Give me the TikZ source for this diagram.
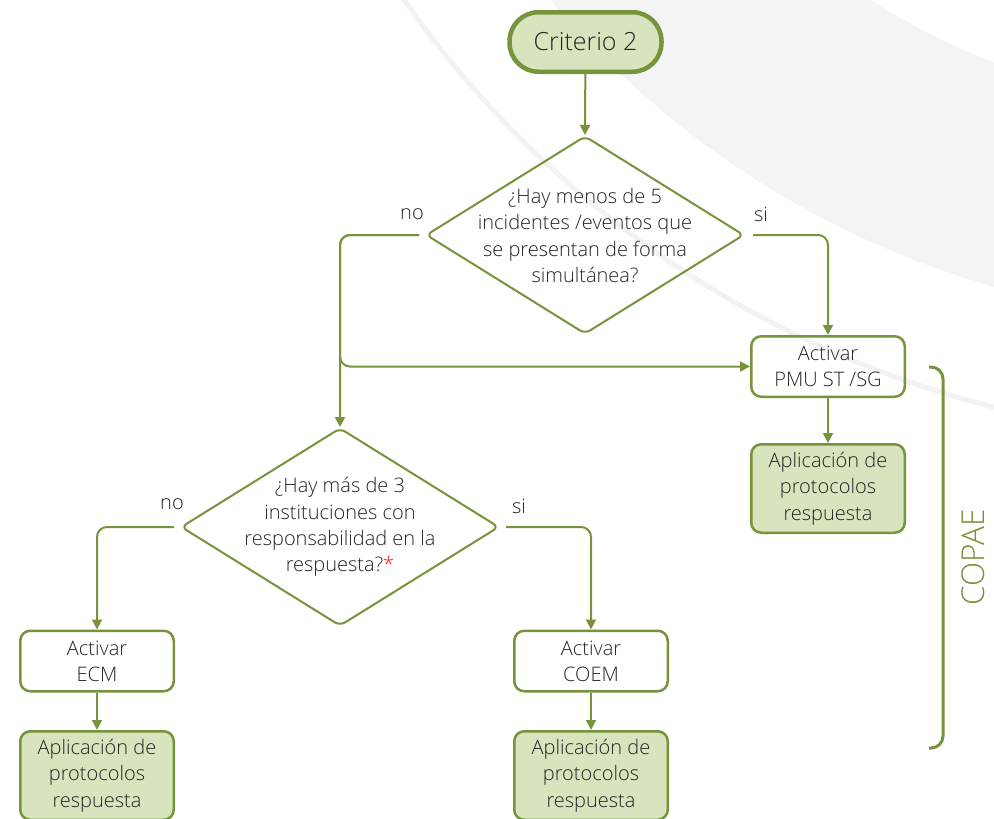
\documentclass[tikz,border=0pt]{standalone}
\usepackage{fontspec}
\setmainfont{Open Sans Light}
\usetikzlibrary{shapes.geometric,arrows.meta}
\definecolor{gline}{HTML}{77933C}
\definecolor{gfill}{HTML}{D7E4BD}
\definecolor{txt}{HTML}{262626}
\definecolor{bgband}{HTML}{F4F4F4}
\definecolor{bgarc}{HTML}{F2F2F2}
\definecolor{astred}{HTML}{FF2020}
\begin{document}
\begin{tikzpicture}[x=1pt,y=-1pt,
  every node/.style={text=txt, font=\fontsize{20}{26.3}\selectfont, align=center},
  startbox/.style={draw=gline, line width=4.5pt, fill=gfill, rounded corners=29pt,
    minimum width=152pt, minimum height=59.5pt, inner sep=0pt, font=\fontsize{25}{28}\selectfont},
  actbox/.style={draw=gline, line width=2.5pt, rounded corners=10pt,
    minimum width=153.5pt, minimum height=60.5pt, inner sep=0pt},
  protbox/.style={actbox, fill=gfill, minimum height=88.5pt},
  decision/.style={draw=gline, line width=2pt, diamond, minimum width=318pt,
    minimum height=198pt, rounded corners=6pt, inner sep=0pt},
  conn/.style={draw=gline, line width=2pt, -{Triangle[length=10pt,width=10pt]}, rounded corners=10pt},
  lbl/.style={font=\fontsize{20}{22}\selectfont}
]
\useasboundingbox (0,0) rectangle (994,819);
% background
\begin{scope}
  \clip (0,0) rectangle (994,819);
  \fill[white] (0,0) rectangle (994,819);
  \fill[bgband, even odd rule] (1245,-588) circle[radius=910pt] (1245,-588) circle[radius=697pt];
  \draw[bgarc, line width=5pt] (1245,-588) circle[radius=1026pt];
\end{scope}

% nodes
\node[startbox] (c2) at (585.5,42) {Criterio 2};
\node[decision] (d1) at (585,235) {};
\node (d1t) at (585,235.5) {¿Hay menos de 5\\incidentes /eventos que\\se presentan de forma\\simultánea?};
\node[actbox] (pmu) at (828,366.5) {Activar\\PMU ST /SG};
\node[protbox] (prot1) at (828,488.5) {Aplicación de\\protocolos\\respuesta};
\node[decision] (d2) at (340,527) {};
\node (d2t) at (340,527) {¿Hay más de 3\\instituciones con\\responsabilidad en la\\respuesta?\textcolor{astred}{*}};
\node[actbox] (ecm) at (97,661) {Activar\\ECM};
\node[protbox] (prot2) at (97,775.5) {Aplicación de\\protocolos\\respuesta};
\node[actbox] (coem) at (591,661) {Activar\\COEM};
\node[protbox] (prot3) at (591,775.5) {Aplicación de\\protocolos\\respuesta};

% labels
\node[lbl] (no1) at (412,214) {no};
\node[lbl] (si1) at (761,214) {si};
\node[lbl] (no2) at (172,504) {no};
\node[lbl] (si2) at (519,506) {si};

% connectors
\draw[conn] (c2) -- (d1.north);
\draw[conn] ([xshift=-6pt]d1.west) -| (d2.north);
\draw[conn] ([xshift=-6pt]d1.west) -| (d2.north |- pmu.west) -- (pmu.west);
\draw[conn] ([xshift=8pt]d1.east) -| (pmu.north);
\draw[conn] (pmu) -- (prot1);
\draw[conn] ([xshift=-6pt]d2.west) -| (ecm.north);
\draw[conn] ([xshift=6pt]d2.east) -| (coem.north);
\draw[conn] (ecm) -- (prot2);
\draw[conn] (coem) -- (prot3);

% COPAE bracket
\coordinate (bt) at (929,367);
\coordinate (bb) at (929,748);
\draw[gline, line width=3pt, rounded corners=12pt] (bt) -- (943,367) -- (943,748) -- (bb);
\node[rotate=90, text=gline, font=\fontsize{31.5}{32}\selectfont] (copae) at (973,557) {COPAE};
\end{tikzpicture}
\end{document}
